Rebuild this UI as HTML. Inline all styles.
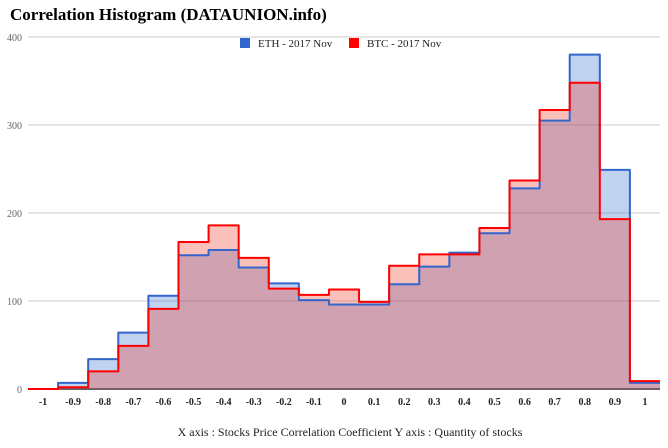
<!DOCTYPE html>
<html><head><meta charset="utf-8"><style>
body{margin:0;background:#fff;}
svg text{font-family:"Liberation Serif",serif;}
</style></head><body>
<svg width="668" height="443">
<text x="10" y="20" font-size="17" font-weight="bold" fill="#000">Correlation Histogram (DATAUNION.info)</text>
<g id="grid"></g>
<g id="series"></g>
<g id="xticks"></g>
<g>
<rect x="240" y="38" width="10" height="10" fill="#3366cc"/>
<text x="258" y="47" font-size="11" fill="#222">ETH - 2017 Nov</text>
<rect x="349" y="38" width="10" height="10" fill="#ff0000"/>
<text x="367" y="47" font-size="11" fill="#222">BTC - 2017 Nov</text>
</g>
<text x="350" y="436" font-size="12" fill="#222" text-anchor="middle">X axis : Stocks Price Correlation Coefficient  Y axis : Quantity of stocks</text>
</svg>
<script>
const categories=["-1","-0.9","-0.8","-0.7","-0.6","-0.5","-0.4","-0.3","-0.2","-0.1","0","0.1","0.2","0.3","0.4","0.5","0.6","0.7","0.8","0.9","1"];
const ethValues=[0,7,34,64,106,152,158,138,120,101,96,96,119,139,155,177,228,305,380,249,7];
const btcValues=[0,2,20,49,91,167,186,149,114,107,113,99,140,153,153,183,237,317,348,193,9];
const yTicks=[0,100,200,300,400];
const NS="http://www.w3.org/2000/svg";
const x0=28,x1=660,yB=389,yT=37,yMax=400;
const bw=(x1-x0)/categories.length;
const xs=i=>x0+i*bw;
const ys=v=>yB-(v/yMax)*(yB-yT);
const grid=document.getElementById('grid');
yTicks.forEach(t=>{
 const l=document.createElementNS(NS,'line');
 l.setAttribute('x1',x0);l.setAttribute('x2',x1);l.setAttribute('y1',ys(t));l.setAttribute('y2',ys(t));
 l.setAttribute('stroke',t===0?'#333':'#ccc');l.setAttribute('stroke-width',t===0?1.5:1);
 
 
 grid.appendChild(l);
 const tx=document.createElementNS(NS,'text');
 tx.setAttribute('x',22);tx.setAttribute('y',ys(t)+4);tx.setAttribute('text-anchor','end');
 tx.setAttribute('font-size','10');tx.setAttribute('fill','#666');tx.textContent=t;
 
 
 grid.appendChild(tx);
});
function stepPath(vals){
 let d='M'+x0+','+ys(vals[0]);
 vals.forEach((v,i)=>{d+=' L'+xs(i)+','+ys(v)+' L'+xs(i+1)+','+ys(v);});
 return d;
}
const ser=document.getElementById('series');
[[ethValues,'#3366cc','rgba(51,102,204,0.3)','eth'],[btcValues,'#ff0000','rgba(240,60,40,0.32)','btc']].forEach(([vals,c,f,n])=>{
 const d=stepPath(vals);
 const a=document.createElementNS(NS,'path');
 a.setAttribute('d',d+' L'+x1+','+yB+' L'+x0+','+yB+' Z');
 a.setAttribute('fill',f);
 
 
 ser.appendChild(a);
});
[[ethValues,'#3366cc','eth'],[btcValues,'#ff0000','btc']].forEach(([vals,c,n])=>{
 const p=document.createElementNS(NS,'path');
 p.setAttribute('d',stepPath(vals));p.setAttribute('fill','none');
 p.setAttribute('stroke',c);p.setAttribute('stroke-width','2');p.setAttribute('stroke-linejoin','round');
 
 
 ser.appendChild(p);
});
const xt=document.getElementById('xticks');
categories.forEach((c,i)=>{
 const t=document.createElementNS(NS,'text');
 t.setAttribute('x',xs(i)+bw/2);t.setAttribute('y',405);t.setAttribute('text-anchor','middle');
 t.setAttribute('font-size','10');t.setAttribute('font-weight','bold');t.setAttribute('fill','#222');
 t.textContent=c;
 
 
 xt.appendChild(t);
});
</script>
</body></html>
